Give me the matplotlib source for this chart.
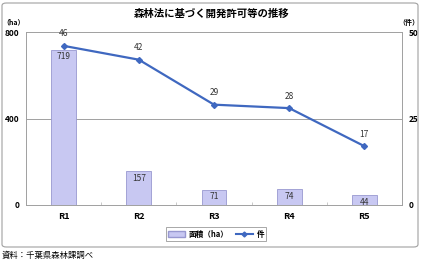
import matplotlib
matplotlib.use("Agg")
import matplotlib.pyplot as plt
from matplotlib.patches import FancyBboxPatch
from matplotlib.lines import Line2D
from matplotlib.patches import Patch

plt.rcParams['font.family'] = ['Noto Sans CJK JP', 'DejaVu Sans']

categories = ["R1", "R2", "R3", "R4", "R5"]
area_ha = [719, 157, 71, 74, 44]
counts = [46, 42, 29, 28, 17]
title = "森林法に基づく開発許可等の推移"
source = "資料：千葉県森林課調べ"

fig = plt.figure(figsize=(4.25, 2.63), dpi=100)
fig.patch.set_facecolor("white")

# outer frame
frame = FancyBboxPatch((2/425, 1 - 247/263), 416/425, 244/263,
                       boxstyle="round,pad=0,rounding_size=0.01",
                       transform=fig.transFigure, fill=False,
                       edgecolor="#A0A0A0", linewidth=0.8)
fig.patches.append(frame)

ax = fig.add_axes([26/425, 1 - 205/263, 376/425, 173/263])
x = range(len(categories))
ax.bar(x, area_ha, width=0.33, color="#C8C8F2", edgecolor="#9898D0", linewidth=0.6, zorder=2)
ax.set_ylim(0, 800)
ax.set_yticks([0, 400, 800])
ax.set_xlim(-0.5, 4.5)
ax.set_xticks(list(x))
ax.set_xticklabels(categories, fontsize=6.5, fontweight="bold")
ax.tick_params(axis='x', length=0, pad=5)
ax.tick_params(axis='y', length=0, labelsize=6, pad=5)
for lbl in ax.get_yticklabels():
    lbl.set_fontweight("bold")
ax.set_xticks([0.5, 1.5, 2.5, 3.5], minor=True)
ax.tick_params(axis='x', which='minor', length=2, color="#C0C0C0", direction='in')
ax.axhline(400, color="#A0A0A0", linewidth=0.7, zorder=1)
for s in ax.spines.values():
    s.set_color("#A0A0A0")
    s.set_linewidth(0.7)

for i, v in enumerate(area_ha):
    ax.text(i, v - 12, str(v), ha="center", va="top", fontsize=6, color="#333333", zorder=4)

ax2 = ax.twinx()
ax2.plot(list(x), counts, color="#3F68C0", linewidth=1.6, marker="D", markersize=3, zorder=3)
ax2.set_ylim(0, 50)
ax2.set_yticks([0, 25, 50])
ax2.tick_params(axis='y', length=0, labelsize=6, pad=5)
for lbl in ax2.get_yticklabels():
    lbl.set_fontweight("bold")
for s in ax2.spines.values():
    s.set_visible(False)
for i, v in enumerate(counts):
    ax2.text(i, v + 2.2, str(v), ha="center", va="bottom", fontsize=6, color="#333333")

fig.text(212/425, 1 - 14/263, title, ha="center", va="center", fontsize=7.5, fontweight="bold")
fig.text(14/425, 1 - 22/263, "（ha）", ha="center", va="center", fontsize=5, fontweight="bold")
fig.text(409/425, 1 - 22/263, "（件）", ha="center", va="center", fontsize=5, fontweight="bold")
fig.text(2/425, 1 - 255/263, source, ha="left", va="center", fontsize=6)

handles = [Patch(facecolor="#C8C8F2", edgecolor="#9898D0", label="面積（ha）"),
           Line2D([0], [0], color="#3F68C0", marker="D", markersize=2.5, linewidth=1.5, label="件")]
leg = fig.legend(handles=handles, loc="center", bbox_to_anchor=(216/425, 1 - 234/263),
                 ncol=2, fontsize=5.5, frameon=True, fancybox=False,
                 handlelength=2.2, handleheight=0.8, columnspacing=1.0,
                 borderpad=0.3, handletextpad=0.5)
leg.get_frame().set_edgecolor("#808080")
leg.get_frame().set_linewidth(0.6)
for t in leg.get_texts():
    t.set_fontweight("bold")

fig.savefig("out.png", dpi=100)
